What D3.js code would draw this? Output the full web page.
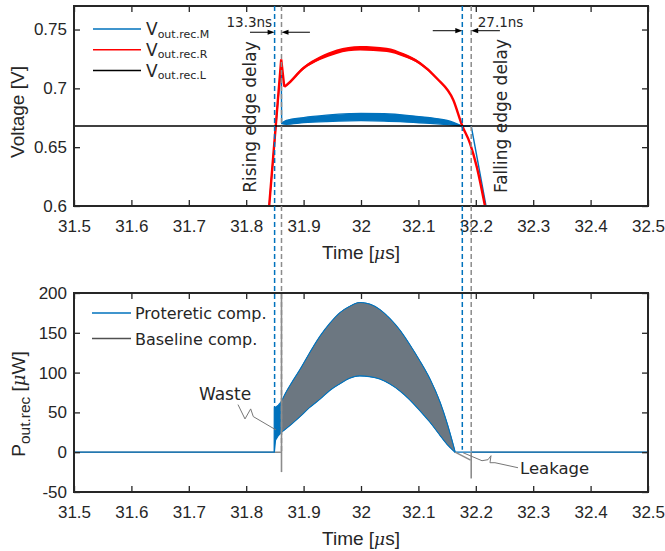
<!DOCTYPE html>
<html>
<head>
<meta charset="utf-8">
<script src="https://cdn.jsdelivr.net/npm/d3@7"></script>
<style>
  body { margin: 0; background: #fff; }
  text { fill: #262626; }
</style>
</head>
<body>
<svg id="chart" width="665" height="551"></svg>
<script>
// ---------------- data ----------------
const timeTicks = [31.5, 31.6, 31.7, 31.8, 31.9, 32.0, 32.1, 32.2, 32.3, 32.4, 32.5];
const timeTickLabels = ["31.5", "31.6", "31.7", "31.8", "31.9", "32", "32.1", "32.2", "32.3", "32.4", "32.5"];
const voltTicks = [0.6, 0.65, 0.7, 0.75];
const voltTickLabels = ["0.6", "0.65", "0.7", "0.75"];
const powerTicks = [-50, 0, 50, 100, 150, 200];
const powerTickLabels = ["-50", "0", "50", "100", "150", "200"];

// V_out.rec.R : time [us], value [V], ripple half-width [V]
const tRecR = [31.840, 31.861, 31.8663, 31.8706, 31.8995, 31.9286, 31.9577, 31.9983, 32.0448, 32.0737, 32.1028, 32.1319, 32.1608, 32.1765, 32.1899, 32.2016, 32.216];
const vRecR = [0.600, 0.7247, 0.7014, 0.7029, 0.7171, 0.7256, 0.7312, 0.7341, 0.7327, 0.7284, 0.7213, 0.7086, 0.6901, 0.668, 0.6533, 0.6335, 0.600];
const rippleRecR = [0, 0, 0.0005, 0.0007, 0.0012, 0.0016, 0.0019, 0.0020, 0.0019, 0.0016, 0.0012, 0.0008, 0.0005, 0.0002, 0, 0, 0];

// V_out.rec.M : time [us], lower / upper envelope [V]
const tRecM = [31.840, 31.861, 31.8618, 31.870, 31.900, 31.940, 31.980, 32.000, 32.040, 32.080, 32.120, 32.150, 32.1765, 32.192, 32.2178];
const vRecMLo = [0.600, 0.722, 0.6700, 0.6695, 0.6708, 0.6718, 0.6724, 0.6725, 0.6722, 0.6714, 0.6703, 0.6692, 0.668, 0.668, 0.600];
const vRecMHi = [0.600, 0.722, 0.6705, 0.6728, 0.6752, 0.6772, 0.6785, 0.6788, 0.6784, 0.6771, 0.6750, 0.6728, 0.668, 0.668, 0.600];

// V_out.rec.L : reference level [V]
const tRecL = [31.5, 32.5];
const vRecL = [0.668, 0.668];

// comparator edges [us]
const riseProt = 31.8495, riseBase = 31.8615;
const fallProt = 32.1765, fallBase = 32.192;
const riseDelayText = "13.3ns", fallDelayText = "27.1ns";

// P_out.rec, proteretic comparator : time [us], lower / upper envelope [uW]
const tProt = [31.5, 31.8488, 31.849, 31.851, 31.856, 31.861, 31.870, 31.880, 31.894, 31.910, 31.929, 31.946, 31.963, 31.980, 31.998, 32.015, 32.033, 32.050, 32.068, 32.085, 32.103, 32.120, 32.138, 32.150, 32.164, 32.5];
const pProtHi = [0, 0, 56, 56, 59, 63, 76, 88, 104, 124, 146, 162, 175, 183, 188, 186, 179, 168, 153, 135, 114, 92, 62, 36, 0, 0];
const pProtLo = [0, 0, 0, 15, 21, 25, 30, 36, 45, 56, 67, 78, 86, 93, 96, 95, 92, 86, 77, 66, 52, 38, 21, 10, 0, 0];

// P_out.rec, baseline comparator : envelope band [uW]
const tBase = [31.861, 31.870, 31.880, 31.894, 31.910, 31.929, 31.946, 31.963, 31.980, 31.998, 32.015, 32.033, 32.050, 32.068, 32.085, 32.103, 32.120, 32.138, 32.150, 32.164];
const pBaseHi = [63, 76, 88, 104, 124, 146, 162, 175, 183, 188, 186, 179, 168, 153, 135, 114, 92, 62, 36, 0];
const pBaseLo = [25, 30, 36, 45, 56, 67, 78, 86, 93, 96, 95, 92, 86, 77, 66, 52, 38, 21, 10, 0];
// baseline comparator switching transients [uW]
const baseRiseSpike = [-25, 260];
const baseFallTailT = [32.164, 32.191];
const baseFallTailP = [0, -10];
const baseFallSpike = [-33, 0];

// callouts (time [us], power [uW])
const wasteT = [31.7857, 31.7979, 31.8078, 31.8124, 31.8519];
const wasteP = [59.8, 41.8, 54.4, 44.7, 28.0];
const leakT = [32.1777, 32.2108, 32.2213, 32.2265, 32.2247, 32.2334, 32.2735];
const leakP = [-0.6, -10.7, -9.4, -4.4, -13.2, -13.2, -19.5];

// ---------------- layout ----------------
const L = 74, R = 648;
const topT = 6, topB = 206, botT = 293, botB = 492;
const BLUE = "#0072BD", RED = "#FF0000", DARK = "#262626";
const GRAY = "#8c8c8c", BAND = "#6c7781", LEGGRAY = "#505050";
const sans = "'Liberation Sans', Arial, sans-serif";
const dejavu = "'DejaVu Sans', sans-serif";
const smooth = d3.curveMonotoneX;

const svg = d3.select("#chart");
const x = d3.scaleLinear().domain([31.5, 32.5]).range([L, R]);
const yV = d3.scaleLinear().domain([0.6, 0.77]).range([topB, topT]);
const yP = d3.scaleLinear().domain([-50, 200]).range([botB, botT]);

const defs = svg.append("defs");
defs.append("clipPath").attr("id", "clipTop").append("rect")
  .attr("x", L).attr("y", topT).attr("width", R - L).attr("height", topB - topT);
defs.append("clipPath").attr("id", "clipBot").append("rect")
  .attr("x", L).attr("y", botT).attr("width", R - L).attr("height", botB - botT);

function axes(yScale, yVals, yText, top, bottom) {
  const g = svg.append("g");
  const style = sel => {
    sel.select(".domain").remove();
    sel.selectAll("line").attr("stroke", DARK).attr("stroke-width", 1.3);
    sel.selectAll("text").style("font-family", sans).style("font-size", "17px").attr("fill", DARK);
  };
  g.append("g").attr("transform", `translate(0,${bottom})`)
    .call(d3.axisBottom(x).tickValues(timeTicks).tickFormat((d, i) => timeTickLabels[i]).tickSize(-6).tickPadding(13.5))
    .call(style);
  g.append("g").attr("transform", `translate(0,${top})`)
    .call(d3.axisTop(x).tickValues(timeTicks).tickFormat("").tickSize(-6)).call(style);
  g.append("g").attr("transform", `translate(${L},0)`)
    .call(d3.axisLeft(yScale).tickValues(yVals).tickFormat((d, i) => yText[i]).tickSize(-6).tickPadding(7))
    .call(style);
  g.append("g").attr("transform", `translate(${R},0)`)
    .call(d3.axisRight(yScale).tickValues(yVals).tickFormat("").tickSize(-6)).call(style);
  g.append("rect").attr("x", L).attr("y", top).attr("width", R - L).attr("height", bottom - top)
    .attr("fill", "none").attr("stroke", DARK).attr("stroke-width", 2);
  return g;
}

// ---------------- top panel: voltages ----------------
const topG = svg.append("g").attr("clip-path", "url(#clipTop)");

// V_out.rec.M : switching edges (straight) and ripple band (smooth)
const mPts = tRecM.map((t, i) => ({ t, lo: vRecMLo[i], hi: vRecMHi[i] }));
const mBand = d3.area().x(d => x(d.t)).y0(d => yV(d.lo)).y1(d => yV(d.hi)).curve(smooth);
const mEdge = d3.line().x(d => x(d.t)).y(d => yV(d.lo));
topG.append("path").datum(mPts.slice(2, 13)).attr("d", mBand)
  .attr("fill", BLUE).attr("stroke", BLUE).attr("stroke-width", 1.3).attr("stroke-linejoin", "round");
[mPts.slice(0, 3), mPts.slice(12)].forEach(seg => {
  topG.append("path").datum(seg).attr("d", mEdge)
    .attr("fill", "none").attr("stroke", BLUE).attr("stroke-width", 1.4);
});

// V_out.rec.R : rising edge with overshoot, then smooth arc
const rPts = tRecR.map((t, i) => ({ t, v: vRecR[i], r: rippleRecR[i] }));
const rArc = rPts.slice(2);
topG.append("path").datum(rArc)
  .attr("d", d3.area().x(d => x(d.t)).y0(d => yV(d.v - d.r)).y1(d => yV(d.v + d.r)).curve(smooth))
  .attr("fill", RED);
topG.append("path").datum(rArc)
  .attr("d", d3.line().x(d => x(d.t)).y(d => yV(d.v)).curve(smooth))
  .attr("fill", "none").attr("stroke", RED).attr("stroke-width", 2.4).attr("stroke-linejoin", "round");
topG.append("path").datum(rPts.slice(0, 3))
  .attr("d", d3.line().x(d => x(d.t)).y(d => yV(d.v)))
  .attr("fill", "none").attr("stroke", RED).attr("stroke-width", 2.4).attr("stroke-linejoin", "miter");

const lPts = tRecL.map((t, i) => ({ t, v: vRecL[i] }));
topG.append("path").datum(lPts)
  .attr("d", d3.line().x(d => x(d.t)).y(d => yV(d.v)))
  .attr("fill", "none").attr("stroke", "#000").attr("stroke-width", 1.3);

axes(yV, voltTicks, voltTickLabels, topT, topB);

// legend (top)
const topLegend = [
  { c: BLUE, sub: "out.rec.M" },
  { c: RED, sub: "out.rec.R" },
  { c: "#000", sub: "out.rec.L" }
];
topLegend.forEach((d, i) => {
  const yy = 29 + i * 20.8;
  svg.append("line").attr("x1", 93).attr("x2", 141).attr("y1", yy).attr("y2", yy)
    .attr("stroke", d.c).attr("stroke-width", 1.5);
  const t = svg.append("text").attr("x", 146).attr("y", yy + 6)
    .style("font-family", dejavu).style("font-size", "17px");
  t.append("tspan").text("V");
  t.append("tspan").attr("dy", 2.5).style("font-size", "11px").text(d.sub);
});

// ---------------- bottom panel: power ----------------
const botG = svg.append("g").attr("clip-path", "url(#clipBot)");
const line = d3.line().x(d => x(d[0])).y(d => yP(d[1]));

// baseline comparator idle level
botG.append("path").datum([[31.5, 0], [riseBase, 0]]).attr("d", line)
  .attr("fill", "none").attr("stroke", GRAY).attr("stroke-width", 1.5);
botG.append("path").datum([[fallBase, 0], [32.5, 0]]).attr("d", line)
  .attr("fill", "none").attr("stroke", GRAY).attr("stroke-width", 1.5);

// proteretic comparator: idle / early turn-on (straight), conduction band (smooth)
const protPts = tProt.map((t, i) => ({ t, lo: pProtLo[i], hi: pProtHi[i] }));
const iOn = tProt.indexOf(riseBase >= 31.861 ? 31.861 : 31.861);
const iOff = tProt.indexOf(32.164);
const areaLin = d3.area().x(d => x(d.t)).y0(d => yP(d.lo)).y1(d => yP(d.hi));
const areaSm = d3.area().x(d => x(d.t)).y0(d => yP(d.lo)).y1(d => yP(d.hi)).curve(smooth);
[[protPts.slice(0, iOn + 1), areaLin], [protPts.slice(iOn, iOff + 1), areaSm], [protPts.slice(iOff), areaLin]]
  .forEach(([seg, gen]) => {
    botG.append("path").datum(seg).attr("d", gen)
      .attr("fill", BLUE).attr("stroke", BLUE).attr("stroke-width", 1.3).attr("stroke-linejoin", "round");
  });

// baseline comparator band
const basePts = tBase.map((t, i) => ({ t, lo: pBaseLo[i], hi: pBaseHi[i] }));
botG.append("path").datum(basePts).attr("d", areaSm).attr("fill", BAND);
// proteretic envelope drawn over the band
const bandSeg = protPts.slice(iOn, iOff + 1);
botG.append("path").datum(bandSeg)
  .attr("d", d3.line().x(d => x(d.t)).y(d => yP(d.hi)).curve(smooth))
  .attr("fill", "none").attr("stroke", BLUE).attr("stroke-width", 1);
botG.append("path").datum(bandSeg)
  .attr("d", d3.line().x(d => x(d.t)).y(d => yP(d.lo)).curve(smooth))
  .attr("fill", "none").attr("stroke", BLUE).attr("stroke-width", 1);

// baseline comparator transients
botG.append("path").datum(baseFallTailT.map((t, i) => [t, baseFallTailP[i]])).attr("d", line)
  .attr("fill", "none").attr("stroke", GRAY).attr("stroke-width", 1.5);
botG.append("path").datum(baseRiseSpike.map(p => [riseBase, p])).attr("d", line)
  .attr("fill", "none").attr("stroke", GRAY).attr("stroke-width", 1.6);
botG.append("path").datum(baseFallSpike.map(p => [fallBase, p])).attr("d", line)
  .attr("fill", "none").attr("stroke", GRAY).attr("stroke-width", 1.6);

axes(yP, powerTicks, powerTickLabels, botT, botB);

// legend (bottom)
[{ c: BLUE, t: "Proteretic comp." }, { c: LEGGRAY, t: "Baseline comp." }].forEach((d, i) => {
  const yy = 313 + i * 25.5;
  svg.append("line").attr("x1", 92).attr("x2", 131).attr("y1", yy).attr("y2", yy)
    .attr("stroke", d.c).attr("stroke-width", 1.5);
  svg.append("text").attr("x", 135).attr("y", yy + 6)
    .style("font-family", dejavu).style("font-size", "16px").text(d.t);
});

// callouts
svg.append("path").datum(wasteT.map((t, i) => [t, wasteP[i]])).attr("d", line)
  .attr("fill", "none").attr("stroke", "#777").attr("stroke-width", 1);
svg.append("text").attr("x", x(wasteT[0]) - 39).attr("y", yP(wasteP[0]) - 5)
  .style("font-family", dejavu).style("font-size", "17px").text("Waste");
svg.append("path").datum(leakT.map((t, i) => [t, leakP[i]])).attr("d", line)
  .attr("fill", "none").attr("stroke", "#777").attr("stroke-width", 1);
svg.append("text").attr("x", x(leakT[leakT.length - 1]) + 2).attr("y", yP(leakP[leakP.length - 1]) + 6)
  .style("font-family", dejavu).style("font-size", "16.5px").text("Leakage");

// ---------------- edge markers ----------------
const markers = [
  { t: riseProt, c: BLUE, endP: 56 },
  { t: riseBase, c: GRAY, endP: 0 },
  { t: fallProt, c: BLUE, endP: 3 },
  { t: fallBase, c: GRAY, endP: 0 }
];
markers.forEach(m => {
  svg.append("line").attr("x1", x(m.t)).attr("x2", x(m.t))
    .attr("y1", yV(0.77)).attr("y2", yP(m.endP))
    .attr("stroke", m.c).attr("stroke-width", 1.5).attr("stroke-dasharray", "5,3");
});

// delay arrows
function arrow(t0, t1, v) {
  const x0 = x(t0), x1 = x(t1), yy = yV(v);
  const dir = Math.sign(x1 - x0);
  svg.append("line").attr("x1", x0).attr("x2", x1 - dir * 5).attr("y1", yy).attr("y2", yy)
    .attr("stroke", "#000").attr("stroke-width", 1);
  svg.append("path")
    .attr("d", `M${x1},${yy} L${x1 - dir * 7},${yy - 2.6} L${x1 - dir * 7},${yy + 2.6} Z`)
    .attr("fill", "#000");
}
arrow(31.8066, riseProt, 0.7477);
arrow(31.911, riseBase, 0.7477);
arrow(32.125, fallProt, 0.749);
arrow(32.242, fallBase, 0.749);

svg.append("text").attr("x", x(riseProt) - 2.5).attr("y", 26.7).attr("text-anchor", "end")
  .style("font-family", dejavu).style("font-size", "13.5px").text(riseDelayText);
svg.append("text").attr("x", x(fallBase) + 6.5).attr("y", 27)
  .style("font-family", dejavu).style("font-size", "13.5px").text(fallDelayText);

svg.append("text").attr("transform", `translate(${x(riseProt) - 19},117) rotate(-90)`)
  .attr("text-anchor", "middle").style("font-family", dejavu).style("font-size", "17px")
  .text("Rising edge delay");
svg.append("text").attr("transform", `translate(${x(fallBase) + 36},116) rotate(-90)`)
  .attr("text-anchor", "middle").style("font-family", dejavu).style("font-size", "17px")
  .text("Falling edge delay");

// ---------------- axis titles ----------------
function timeTitle(yBase) {
  const t = svg.append("text").attr("x", (L + R) / 2).attr("y", yBase).attr("text-anchor", "middle")
    .style("font-family", sans).style("font-size", "19px");
  t.append("tspan").text("Time [");
  t.append("tspan").style("font-family", "'DejaVu Serif', serif").style("font-style", "italic").style("font-size", "17px").text("μ");
  t.append("tspan").text("s]");
}
timeTitle(259);
timeTitle(545);

svg.append("text").attr("transform", "translate(23.5,112) rotate(-90)").attr("text-anchor", "middle")
  .style("font-family", sans).style("font-size", "19px").text("Voltage [V]");

const pt = svg.append("text").attr("transform", "translate(25,404) rotate(-90)")
  .attr("text-anchor", "middle").style("font-family", sans).style("font-size", "19px");
pt.append("tspan").text("P");
pt.append("tspan").attr("dy", 4.5).style("font-size", "15.5px").text("out.rec");
pt.append("tspan").attr("dy", -4.5).text(" [");
pt.append("tspan").style("font-family", "'DejaVu Serif', serif").style("font-style", "italic").style("font-size", "18px").text("μ");
pt.append("tspan").text("W]");
</script>
</body>
</html>
